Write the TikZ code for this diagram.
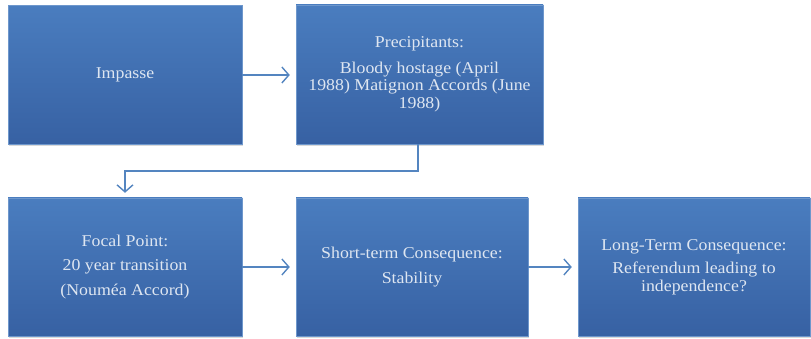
\documentclass[tikz,border=0pt]{standalone}
\usepackage{fontspec}
\setmainfont{Liberation Serif}[FakeStretch=1.08]
\usetikzlibrary{arrows.meta,shadows,calc}

\definecolor{boxtop}{RGB}{74,125,191}
\definecolor{boxbot}{RGB}{55,97,163}
\definecolor{boxtext}{RGB}{222,230,241}
\definecolor{linkblue}{RGB}{84,133,192}

\tikzset{
  stepbox/.style={
    rectangle, inner sep=4pt, align=center,
    top color=boxtop, bottom color=boxbot,
    draw=boxtop!80!white, line width=0.4pt,
    drop shadow={opacity=0.3, shadow xshift=1pt, shadow yshift=-2pt},
    text=boxtext,
    font=\fontsize{16.5}{17.5}\selectfont
  },
  link/.style={
    draw=linkblue, line width=1.4pt,
    -{Straight Barb[length=7pt,width=16pt,line width=1.4pt]}
  }
}

\begin{document}
\begin{tikzpicture}[x=1pt,y=1pt]
  \useasboundingbox (0,0) rectangle (811,339);

  % top row
  \node[stepbox, minimum width=234pt, minimum height=139pt] (impasse) at (125,264) {Impasse};
  \node[stepbox, minimum width=247pt, minimum height=139pt] (precip) at (419.5,264.5)
    {Precipitants:\\[8pt]
     Bloody hostage (April\\
     1988) Matignon Accords (June\\
     1988)};

  % bottom row
  \node[stepbox, minimum width=234pt, minimum height=138pt] (focal) at (125,72)
    {Focal Point:\\[7pt] 20 year transition\\[7pt] (Nouméa Accord)};
  \node[stepbox, minimum width=232pt, minimum height=138pt] (short) at (412,72)
    {Short-term Consequence:\\[7pt] Stability};
  \node[stepbox, minimum width=232pt, minimum height=138pt] (long) at (694,72)
    {Long-Term Consequence:\\[6pt] Referendum leading to\\ independence?};

  % connectors
  \coordinate (bend) at ($(precip.south)+(-1.5pt,-27pt)$);
  \draw[link, shorten >=6pt] (impasse.east) -- (impasse.east -| precip.west);
  \draw[link, shorten >=5pt] (precip.south -| bend) -- (bend) -- (bend -| focal.north) -- (focal.north);
  \draw[link, shorten >=6pt] (focal.east) -- (short.west);
  \draw[link, shorten >=6pt] (short.east) -- (long.west);
\end{tikzpicture}
\end{document}
